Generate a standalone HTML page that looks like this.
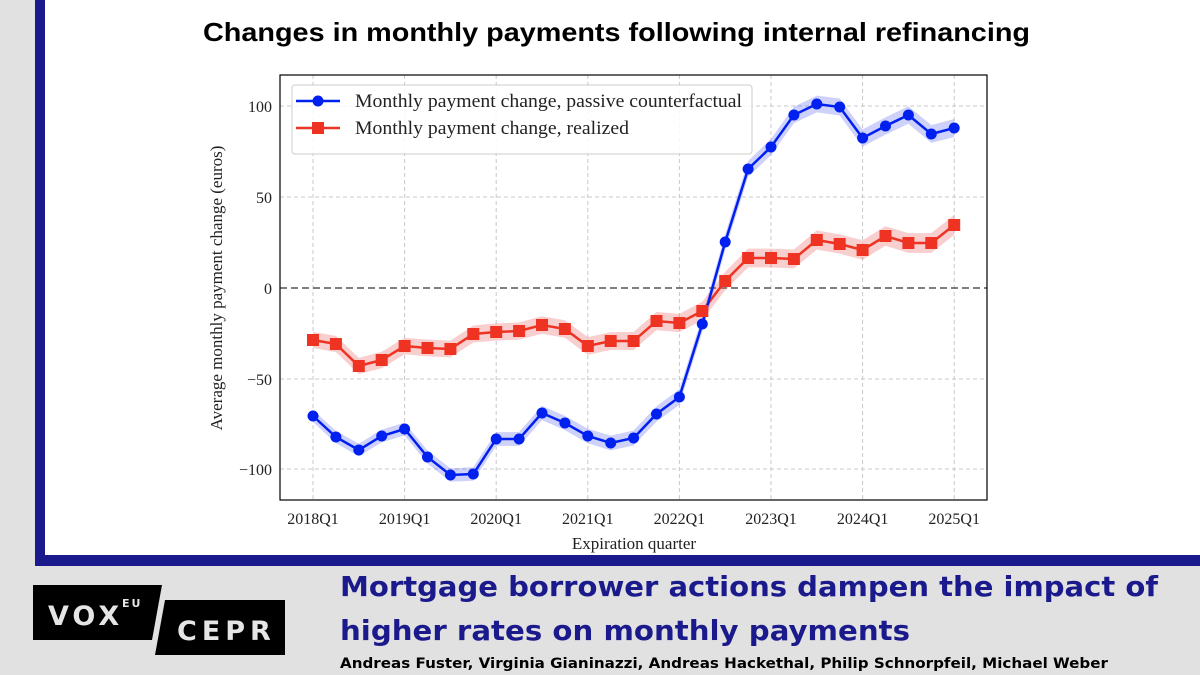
<!DOCTYPE html>
<html><head><meta charset="utf-8"><style>
html,body{margin:0;padding:0;width:1200px;height:675px;overflow:hidden;background:#e1e1e1;}
</style></head><body>
<svg id="s" width="1200" height="675" xmlns="http://www.w3.org/2000/svg" style="position:absolute;left:0;top:0">
<rect x="0" y="0" width="1200" height="675" fill="#e1e1e1"/>
<rect x="35" y="0" width="1165" height="566" fill="#1a1a8c"/>
<rect x="45" y="0" width="1155" height="555" fill="#fff"/>
<text x="203" y="41" font-family="Liberation Sans, sans-serif" font-weight="bold" font-size="26" fill="#000" textLength="827" lengthAdjust="spacingAndGlyphs">Changes in monthly payments following internal refinancing</text>
<g id="grid"></g>
<g id="data"></g>
<rect x="280" y="75" width="707" height="425" fill="none" stroke="#000" stroke-width="1.2"/>
<g font-family="Liberation Serif, serif" font-size="16" fill="#222" text-anchor="end">
<text x="272" y="112">100</text><text x="272" y="203">50</text><text x="272" y="294">0</text>
<text x="272" y="385">−50</text><text x="272" y="475">−100</text>
</g>
<g id="xl" font-family="Liberation Serif, serif" font-size="16" fill="#222" text-anchor="middle"></g>
<text x="634" y="549" text-anchor="middle" font-family="Liberation Serif, serif" font-size="17" fill="#222">Expiration quarter</text>
<text transform="translate(222,288) rotate(-90)" text-anchor="middle" font-family="Liberation Serif, serif" font-size="17" fill="#222">Average monthly payment change (euros)</text>
<rect x="292" y="85" width="460" height="69" rx="3" fill="#fff" fill-opacity="0.85" stroke="#ccc"/>
<line x1="296" y1="101" x2="340" y2="101" stroke="#0020f0" stroke-width="2.5"/><circle cx="318" cy="101" r="5.5" fill="#0020f0"/>
<line x1="296" y1="128" x2="340" y2="128" stroke="#ee3322" stroke-width="2.5"/><rect x="312" y="122" width="12" height="12" fill="#ee3322"/>
<g font-family="Liberation Serif, serif" font-size="19" fill="#222">
<text x="355" y="107" textLength="387" lengthAdjust="spacingAndGlyphs">Monthly payment change, passive counterfactual</text>
<text x="355" y="134" textLength="274" lengthAdjust="spacingAndGlyphs">Monthly payment change, realized</text>
</g>
<polygon points="33,585 162,585 152,640 33,640" fill="#000"/>
<polygon points="165,600 285,600 285,655 155,655" fill="#000"/>
<text x="48" y="625" font-family="DejaVu Sans, sans-serif" font-weight="bold" font-size="27" fill="#e5e5e5" letter-spacing="4">VOX</text>
<text x="122" y="607" font-family="DejaVu Sans, sans-serif" font-weight="bold" font-size="11" fill="#e5e5e5" letter-spacing="2">EU</text>
<text x="177" y="640" font-family="DejaVu Sans, sans-serif" font-weight="bold" font-size="27" fill="#e5e5e5" letter-spacing="5">CEPR</text>
<g font-family="DejaVu Sans, sans-serif" font-weight="bold" font-size="28" fill="#1a1a8c">
<text x="340" y="596" textLength="818" lengthAdjust="spacingAndGlyphs">Mortgage borrower actions dampen the impact of</text>
<text x="340" y="640" textLength="570" lengthAdjust="spacingAndGlyphs">higher rates on monthly payments</text>
</g>
<text x="340" y="668" font-family="DejaVu Sans, sans-serif" font-weight="bold" font-size="14" fill="#000" textLength="768" lengthAdjust="spacingAndGlyphs">Andreas Fuster, Virginia Gianinazzi, Andreas Hackethal, Philip Schnorpfeil, Michael Weber</text>
</svg>
<script>
var NS="http://www.w3.org/2000/svg";
function el(t,a,p){var e=document.createElementNS(NS,t);for(var k in a)e.setAttribute(k,a[k]);(p||document.getElementById('data')).appendChild(e);return e;}
var g=document.getElementById('grid');
function X(i){return 313+i*22.9;}
for(var yr=0;yr<8;yr++){var x=X(yr*4);el('line',{x1:x,y1:75,x2:x,y2:500,stroke:'#c8c8c8','stroke-dasharray':'4,3'},g);
 var t=el('text',{x:x,y:524},document.getElementById('xl'));t.textContent=(2018+yr)+'Q1';}
[106,197,379,469].forEach(function(y){el('line',{x1:280,y1:y,x2:987,y2:y,stroke:'#c8c8c8','stroke-dasharray':'4,3'},g);});
el('line',{x1:280,y1:288,x2:987,y2:288,stroke:'#555','stroke-width':1.6,'stroke-dasharray':'7,4'},g);
var B=[416,437,450,436,429,457,475,474,439,439,413,423,436,443,438,414,397,324,242,169,147,115,104,107,138,126,115,134,128];
var R=[340,344,366,360,346,348,349,334,332,331,325,329,346,341,341,321,323,311,281,258,258,259,240,244,250,236,243,243,225];
function band(arr,w0,w1,col){var up=[],dn=[];for(var i=0;i<arr.length;i++){var w=w0+(w1-w0)*i/(arr.length-1);up.push(X(i)+','+(arr[i]-w));dn.unshift(X(i)+','+(arr[i]+w));}
 el('polygon',{points:up.concat(dn).join(' '),fill:col});}
band(R,8,10,'rgba(235,80,80,0.28)');
band(B,6,9,'rgba(60,70,230,0.25)');
function line(arr,col){el('polyline',{points:arr.map(function(y,i){return X(i)+','+y;}).join(' '),fill:'none',stroke:col,'stroke-width':2.5});}
line(R,'#ee3322');line(B,'#0020f0');
R.forEach(function(y,i){el('rect',{x:X(i)-6,y:y-6,width:12,height:12,fill:'#ee3322'});});
B.forEach(function(y,i){el('circle',{cx:X(i),cy:y,r:5.5,fill:'#0020f0'});});
</script>
</body></html>
